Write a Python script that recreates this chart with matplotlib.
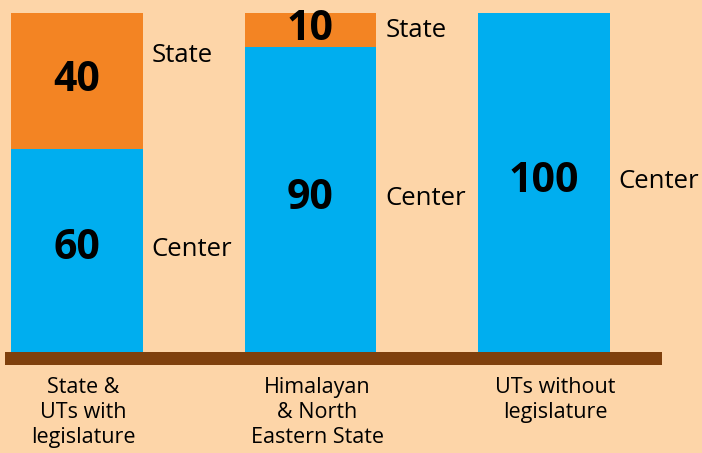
import matplotlib
matplotlib.use("Agg")
import matplotlib.pyplot as plt
from matplotlib.patches import Rectangle

categories = ["State &\nUTs with\nlegislature", "Himalayan\n& North\nEastern State", "UTs without\nlegislature"]
center_share = [60, 90, 100]
state_share = [40, 10, 0]

BG = "#FDD5A8"
BLUE = "#00AEEF"
ORANGE = "#F38423"
BROWN = "#7F400C"

plt.rcParams['font.family'] = ['Open Sans', 'DejaVu Sans']

fig = plt.figure(figsize=(7.02, 4.53), dpi=100, facecolor=BG)
ax = fig.add_axes([0, 0, 1, 1])
ax.set_facecolor(BG)

x = list(range(len(categories)))
width = 0.565
ax.bar(x, center_share, width=width, color=BLUE, zorder=2)
ax.bar(x, state_share, bottom=center_share, width=width, color=ORANGE, zorder=2)

# baseline
ax.add_patch(Rectangle((-0.308, -3.85), 2.813, 3.85, color=BROWN, zorder=3, lw=0))

for i in x:
    c = center_share[i]
    s = state_share[i]
    ax.text(i, c / 2 + 0.4, str(c), ha='center', va='center', fontsize=29.5, fontweight='bold', color='black', zorder=4)
    ax.text(i + 0.32, c / 2 + 0.2, "Center", ha='left', va='center', fontsize=18.5, color='black')
    if s > 0:
        ax.text(i, c + s / 2, str(s), ha='center', va='center', fontsize=29.5, fontweight='bold', color='black', zorder=4)

state_label_y = [87.5, 94.7]
for i, yy in enumerate(state_label_y):
    ax.text(i + 0.32, yy, "State", ha='left', va='center', fontsize=18.5, color='black')

offs = [0.025, 0.03, 0.05]
for i, cat in enumerate(categories):
    ax.text(i + offs[i], -7.3, cat, ha='center', va='top', fontsize=15.5, color='black', linespacing=1.27)

ax.set_xlim(-0.33, 2.677)
ax.set_ylim(-29.8, 103.83)
ax.axis('off')

fig.savefig("out.png", dpi=100, facecolor=BG)
